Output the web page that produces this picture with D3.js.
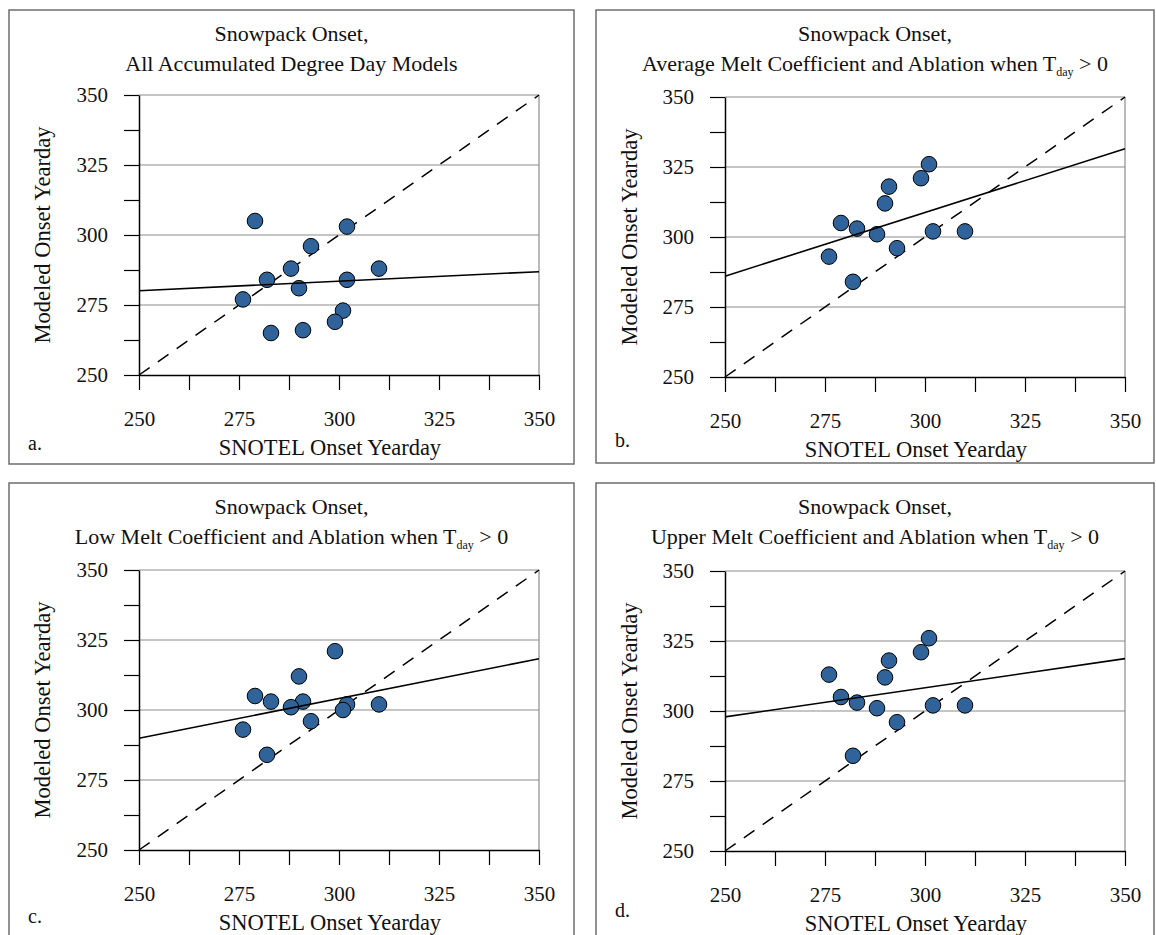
<!DOCTYPE html>
<html>
<head>
<meta charset="utf-8">
<script src="https://cdn.jsdelivr.net/npm/d3@7"></script>
<style>
  body { margin: 0; background: #fff; }
  text { font-family: "Liberation Serif", "DejaVu Serif", serif; fill: #111; }
</style>
</head>
<body>
<div id="chart"></div>
<script>
// values
const tickLabels = [250, 275, 300, 325, 350];
const tickStep = 12.5;

// a. all accumulated degree day models
const snotelA  = [279, 302, 293, 288, 310, 282, 302, 290, 276, 301, 299, 283, 291];
const modeledA = [305, 303, 296, 288, 288, 284, 284, 281, 277, 273, 269, 265, 266];
// b. average melt coefficient
const snotelB  = [301, 299, 291, 290, 279, 283, 288, 302, 310, 293, 276, 282];
const modeledB = [326, 321, 318, 312, 305, 303, 301, 302, 302, 296, 293, 284];
// c. low melt coefficient
const snotelC  = [299, 290, 279, 283, 291, 288, 302, 301, 310, 293, 276, 282];
const modeledC = [321, 312, 305, 303, 303, 301, 302, 300, 302, 296, 293, 284];
// d. upper melt coefficient
const snotelD  = [301, 299, 291, 276, 290, 279, 283, 288, 302, 310, 293, 282];
const modeledD = [326, 321, 318, 313, 312, 305, 303, 301, 302, 302, 296, 284];

// linear trend, modeled value at x = 250 and x = 350
const trendA = [280.1, 286.9];
const trendB = [286.0, 331.5];
const trendC = [289.9, 318.3];
const trendD = [297.9, 318.7];

const titleLine1 = "Snowpack Onset,";
const titleA = "All Accumulated Degree Day Models";
const titleB = "Average Melt Coefficient and Ablation when ";
const titleC = "Low Melt Coefficient and Ablation when ";
const titleD = "Upper Melt Coefficient and Ablation when ";
const panelLetters = ["a.", "b.", "c.", "d."];

const W = 1156, H = 935;

const svg = d3.select("#chart").append("svg")
    .attr("width", W)
    .attr("height", H);

// layout of each panel (frame and plot area in page pixels)
const panels = [
    { x: snotelA, y: modeledA, trend: trendA, title: titleA, sub: false,
      frame: [9, 10, 574, 464], plot: [139, 95, 539, 375], letterY: 450 },
    { x: snotelB, y: modeledB, trend: trendB, title: titleB, sub: true,
      frame: [596, 10, 1154, 463], plot: [725, 97, 1125, 377], letterY: 447 },
    { x: snotelC, y: modeledC, trend: trendC, title: titleC, sub: true,
      frame: [9, 483, 574, 940], plot: [139, 570, 539, 850], letterY: 923 },
    { x: snotelD, y: modeledD, trend: trendD, title: titleD, sub: true,
      frame: [596, 483, 1154, 940], plot: [725, 571, 1125, 851], letterY: 917 }
];

const ticks = d3.range(tickLabels[0], tickLabels[tickLabels.length - 1] + 0.01, tickStep);
const fmt = function(d) { return tickLabels.indexOf(d) >= 0 ? d : ""; };

panels.forEach(function(p, i) {

    const g = svg.append("g");
    const [fx0, fy0, fx1, fy1] = p.frame;
    const [px0, py0, px1, py1] = p.plot;

    // outer chart frame
    g.append("rect")
        .attr("x", fx0).attr("y", fy0)
        .attr("width", fx1 - fx0).attr("height", fy1 - fy0)
        .attr("fill", "#fff")
        .attr("stroke", "#6e6e6e")
        .attr("stroke-width", 1.5);

    const x = d3.scaleLinear().domain([250, 350]).range([px0, px1]);
    const y = d3.scaleLinear().domain([250, 350]).range([py1, py0]);

    // gridlines
    g.append("g")
        .selectAll("line")
        .data(tickLabels.slice(1))
        .enter()
        .append("line")
            .attr("x1", px0).attr("x2", px1)
            .attr("y1", d => y(d)).attr("y2", d => y(d))
            .attr("stroke", "#8c8c8c")
            .attr("stroke-width", 1.2);

    // right border of plot area
    g.append("line")
        .attr("x1", px1).attr("x2", px1)
        .attr("y1", py0).attr("y2", py1)
        .attr("stroke", "#8c8c8c")
        .attr("stroke-width", 1.2);

    // 1:1 line
    g.append("line")
        .attr("x1", x(250)).attr("y1", y(250))
        .attr("x2", x(350)).attr("y2", y(350))
        .attr("stroke", "#000")
        .attr("stroke-width", 1.5)
        .attr("stroke-dasharray", "13,10");

    // axes
    const xAxis = g.append("g")
        .attr("transform", "translate(0," + py1 + ")")
        .call(d3.axisBottom(x).tickValues(ticks).tickFormat(fmt)
            .tickSize(15).tickPadding(21).tickSizeOuter(0));
    const yAxis = g.append("g")
        .attr("transform", "translate(" + px0 + ",0)")
        .call(d3.axisLeft(y).tickValues(ticks).tickFormat(fmt)
            .tickSize(15).tickPadding(16).tickSizeOuter(0));
    [xAxis, yAxis].forEach(function(a) {
        a.select(".domain").attr("stroke", "#000").attr("stroke-width", 1.5);
        a.selectAll(".tick line").attr("stroke", "#000").attr("stroke-width", 1.2);
        a.selectAll(".tick text")
            .style("font-family", '"Liberation Serif", serif')
            .style("font-size", "21px")
            .attr("fill", "#111");
    });

    // points
    g.append("g")
        .selectAll("circle")
        .data(p.x.map((d, k) => [d, p.y[k]]))
        .enter()
        .append("circle")
            .attr("cx", d => x(d[0]))
            .attr("cy", d => y(d[1]))
            .attr("r", 7.8)
            .attr("fill", "#31639b")
            .attr("stroke", "#000")
            .attr("stroke-width", 1);

    // trend line
    g.append("line")
        .attr("x1", x(250)).attr("y1", y(p.trend[0]))
        .attr("x2", x(350)).attr("y2", y(p.trend[1]))
        .attr("stroke", "#000")
        .attr("stroke-width", 1.6);

    // titles
    const cx = (fx0 + fx1) / 2;
    g.append("text")
        .attr("x", cx).attr("y", fy0 + 31)
        .attr("text-anchor", "middle")
        .style("font-size", "22px")
        .text(titleLine1);
    const t2 = g.append("text")
        .attr("x", cx).attr("y", fy0 + 61)
        .attr("text-anchor", "middle")
        .style("font-size", "22px");
    t2.append("tspan").text(p.title);
    if (p.sub) {
        t2.append("tspan").text("T");
        t2.append("tspan").attr("dy", 5).style("font-size", "12px").text("day");
        t2.append("tspan").attr("dy", -5).text(" > 0");
    }

    // axis titles
    g.append("text")
        .attr("x", (px0 + px1) / 2 - 9).attr("y", py1 + 80)
        .attr("text-anchor", "middle")
        .style("font-size", "22.5px")
        .text("SNOTEL Onset Yearday");
    g.append("text")
        .attr("transform", "translate(" + (fx0 + 41) + "," + ((py0 + py1) / 2) + ") rotate(-90)")
        .attr("text-anchor", "middle")
        .style("font-size", "22.5px")
        .text("Modeled Onset Yearday");

    // panel letter
    g.append("text")
        .attr("x", fx0 + 19).attr("y", p.letterY)
        .style("font-size", "20px")
        .text(panelLetters[i]);
});
</script>
</body>
</html>
